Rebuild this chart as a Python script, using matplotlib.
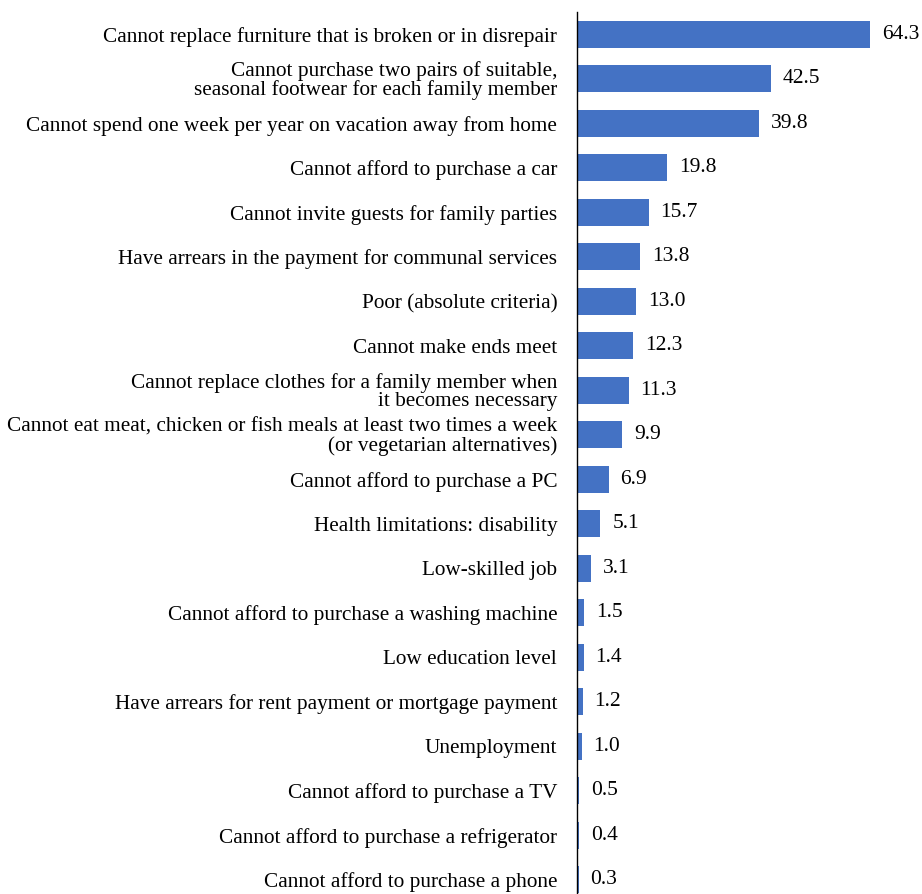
import matplotlib.pyplot as plt

plt.rcParams['font.family'] = ['Liberation Serif', 'DejaVu Serif']

labels = [
    'Cannot replace furniture that is broken or in disrepair',
    'Cannot purchase two pairs of suitable,\nseasonal footwear for each family member',
    'Cannot spend one week per year on vacation away from home',
    'Cannot afford to purchase a car',
    'Cannot invite guests for family parties',
    'Have arrears in the payment for communal services',
    'Poor (absolute criteria)',
    'Cannot make ends meet',
    'Cannot replace clothes for a family member when\nit becomes necessary',
    'Cannot eat meat, chicken or fish meals at least two times a week\n(or vegetarian alternatives)',
    'Cannot afford to purchase a PC',
    'Health limitations: disability',
    'Low-skilled job',
    'Cannot afford to purchase a washing machine',
    'Low education level',
    'Have arrears for rent payment or mortgage payment',
    'Unemployment',
    'Cannot afford to purchase a TV',
    'Cannot afford to purchase a refrigerator',
    'Cannot afford to purchase a phone',
]
values = [64.3, 42.5, 39.8, 19.8, 15.7, 13.8, 13.0, 12.3, 11.3, 9.9,
          6.9, 5.1, 3.1, 1.5, 1.4, 1.2, 1.0, 0.5, 0.4, 0.3]

fig = plt.figure(figsize=(9.22, 8.94), dpi=100)
ax = fig.add_axes([0.626, -0.009, 0.346, 0.9955])

ypos = list(range(len(values)))
ax.barh(ypos, values, height=0.6, color='#4472C4')
ax.set_ylim(len(values) - 0.5, -0.5)
ax.set_xlim(0, 70)

# value labels just past the bar ends
for y, v in zip(ypos, values):
    ax.text(v + 2.6, y, '%.1f' % v, va='center', ha='left', fontsize=15.5)

ax.set_yticks(ypos)
ax.set_yticklabels(labels, fontsize=15.3, ha='right', linespacing=0.93)
ax.tick_params(axis='y', length=0, pad=14.4)
ax.set_xticks([])
for s in ['top', 'right', 'bottom']:
    ax.spines[s].set_visible(False)
ax.spines['left'].set_color('black')
ax.spines['left'].set_linewidth(1.0)

fig.savefig('out.png', dpi=100)
